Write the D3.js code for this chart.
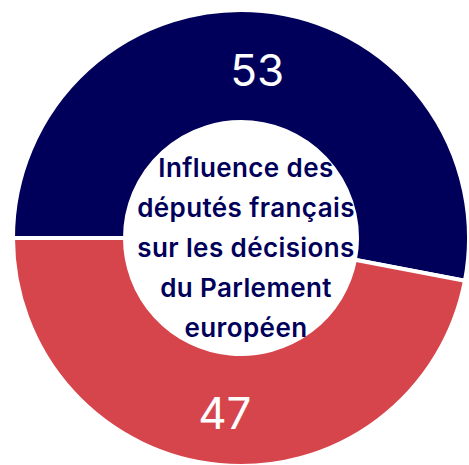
<!DOCTYPE html>
<html lang="fr">
<head>
<meta charset="UTF-8">
<title>Influence des députés français</title>
<script src="https://d3js.org/d3.v7.min.js"></script>
<style>
  body { margin: 0; background: #fff; }
  svg { display: block; }
  .label { font-family: Inter, "Noto Sans", sans-serif; fill: #fff; font-size: 44px; }
  .center { font-family: Inter, "Noto Sans", sans-serif; fill: #00005a; font-size: 26px; font-weight: 600; letter-spacing: 0.4px; }
</style>
</head>
<body>
<div id="chart"></div>
<script>
  let categories = ["Oui", "Non"];
  let values = [53, 47];
  let colors = ["#00005a", "#d6454b"];
  let titleLines = ["Influence des", "députés français", "sur les décisions", "du Parlement", "européen"];

  let width = 469, height = 465;
  let cx = 241, cy = 238;
  let outer = 228, inner = 116;

  let svg = d3.select("#chart").append("svg")
      .attr("width", width)
      .attr("height", height);

  let g = svg.append("g").attr("transform", "translate(" + cx + "," + cy + ")");

  let pie = d3.pie()
      .sort(null)
      .startAngle(-Math.PI / 2)
      .endAngle(Math.PI * 1.5)
      .value(d => d);

  let arc = d3.arc().innerRadius(inner).outerRadius(outer);
  let labelArc = d3.arc().innerRadius((inner + outer) / 2).outerRadius((inner + outer) / 2);

  let arcs = pie(values);

  g.selectAll("path")
    .data(arcs)
    .enter()
    .append("path")
    .attr("d", arc)
    .attr("fill", (d, i) => colors[i])
    .attr("stroke", "#fff")
    .attr("stroke-width", 4);

  g.selectAll(".label")
    .data(arcs)
    .enter()
    .append("text")
    .attr("class", "label")
    .attr("transform", d => "translate(" + labelArc.centroid(d) + ")")
    .attr("text-anchor", "middle")
    .attr("dy", "0.44em")
    .text(d => d.data);

  // center title, baselines about 40px apart, a little right of the hole centre
  let lineH = 40;
  g.append("text")
    .attr("class", "center")
    .attr("text-anchor", "middle")
    .selectAll("tspan")
    .data(titleLines)
    .enter()
    .append("tspan")
    .attr("x", 5)
    .attr("y", (d, i) => 19 + (i - (titleLines.length - 1) / 2) * lineH)
    .text(d => d);
</script>
</body>
</html>
